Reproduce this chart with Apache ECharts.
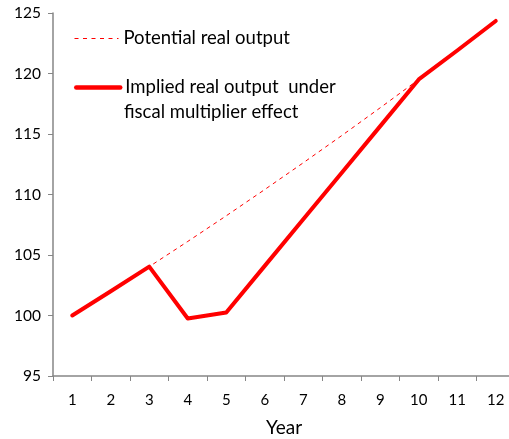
<!DOCTYPE html>
<html>
<head>
<meta charset="utf-8">
<script src="https://cdn.jsdelivr.net/npm/echarts@6/dist/echarts.min.js"></script>
<style>
  html, body { margin: 0; padding: 0; background: #fff; }
  #chart { width: 509px; height: 439px; }
</style>
</head>
<body>
<div id="chart"></div>
<script>
// Years on the horizontal axis
const years = ['1', '2', '3', '4', '5', '6', '7', '8', '9', '10', '11', '12'];

// Potential output growing 2% a year
const potentialOutput = [100, 102, 104.04, 106.12, 108.24, 110.41, 112.62, 114.87, 117.17, 119.51, 121.90, 124.34];

// Output path with the fiscal multiplier shock in years 4-5
const impliedOutput = [100, 102, 104.04, 99.75, 100.25, 104.1, 107.95, 111.8, 115.65, 119.51, 121.90, 124.34];

const potentialName = 'Potential real output';
const impliedName = 'Implied real output under fiscal multiplier effect';
const impliedLine1 = 'Implied real output  under';
const impliedLine2 = 'fiscal multiplier effect';

const FONT = 'Lato';
const AXIS_GREY = '#868686';
const RED = '#ff0000';
const LEGEND_SIZE = 18.5;

const chart = echarts.init(document.getElementById('chart'), null, { renderer: 'canvas' });

const legendBase = {
  left: 74, padding: 0,
  itemWidth: 44, itemHeight: 14, itemGap: 5,
  // hide the marker dot; keep only the line sample
  itemStyle: { opacity: 0 },
  textStyle: { fontFamily: FONT, fontSize: LEGEND_SIZE, color: '#000' }
};

chart.setOption({
  animation: false,
  backgroundColor: '#fff',
  grid: { left: 53, right: -6, top: 13, bottom: 63, containLabel: false, outerBoundsMode: 'none' },
  legend: [
    Object.assign({}, legendBase, {
      data: [potentialName], top: 29,
      lineStyle: { width: 1, type: [4, 4.5] }
    }),
    Object.assign({}, legendBase, {
      data: [impliedName], top: 78,
      lineStyle: { width: 4.5 },
      formatter: () => impliedLine1
    })
  ],
  graphic: [
    {
      type: 'text', left: 124, top: 103,
      style: { text: impliedLine2, font: LEGEND_SIZE + 'px ' + FONT, fill: '#000' }
    }
  ],
  xAxis: {
    type: 'category',
    data: years,
    boundaryGap: true,
    name: 'Year',
    nameLocation: 'middle',
    nameGap: 42,
    nameTextStyle: { fontFamily: FONT, fontSize: 19, color: '#000' },
    axisLine: { lineStyle: { color: AXIS_GREY, width: 1.5 } },
    axisTick: { show: true, alignWithLabel: false, length: 5, lineStyle: { color: AXIS_GREY } },
    axisLabel: { fontFamily: FONT, fontSize: 15, color: '#000', margin: 17 },
    splitLine: { show: false }
  },
  yAxis: {
    type: 'value',
    min: 95, max: 125, interval: 5,
    axisLine: { show: true, lineStyle: { color: AXIS_GREY, width: 1.5 } },
    axisTick: { show: true, length: 5, lineStyle: { color: AXIS_GREY } },
    axisLabel: { fontFamily: FONT, fontSize: 15.5, color: '#000', margin: 12 },
    splitLine: { show: false }
  },
  series: [
    {
      name: potentialName,
      type: 'line',
      data: potentialOutput,
      symbol: 'none',
      z: 2,
      lineStyle: { color: RED, width: 1, type: [4, 4] },
      itemStyle: { color: RED }
    },
    {
      name: impliedName,
      type: 'line',
      data: impliedOutput,
      symbol: 'none',
      z: 3,
      lineStyle: { color: RED, width: 4, cap: 'round', join: 'round' },
      itemStyle: { color: RED }
    }
  ]
});
</script>
</body>
</html>
